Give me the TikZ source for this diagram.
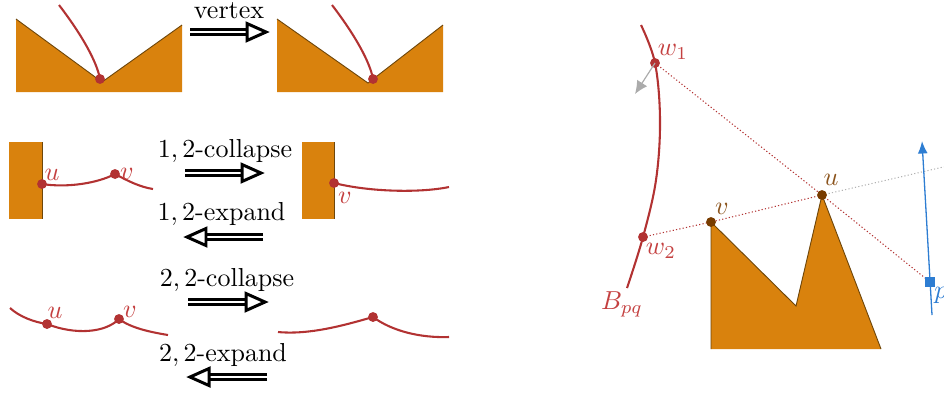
\documentclass[tikz,border=0pt]{standalone}
\usetikzlibrary{arrows.meta}
\definecolor{orng}{RGB}{217,130,13}
\definecolor{obord}{RGB}{110,70,10}
\definecolor{crv}{RGB}{178,50,50}
\definecolor{lbl}{RGB}{196,64,64}
\definecolor{brn}{RGB}{120,60,0}
\definecolor{brnl}{RGB}{140,85,30}
\definecolor{blu}{RGB}{45,125,210}
\newcommand\DArrow[3]{%
  \pgfmathsetmacro\dsgn{sign(#2-#1)}%
  \pgfmathsetmacro\xb{#2-21*\dsgn}%
  \pgfmathsetmacro\xt{#2-2*\dsgn}%
  \draw[dblline] (#1,#3-2.8) -- (\xb,#3-2.8) (#1,#3+2.8) -- (\xb,#3+2.8);
  \draw[dblline,fill=white,line join=miter] (\xb,#3-8.5) -- (\xt,#3) -- (\xb,#3+8.5) -- cycle;
}
\begin{document}
\begin{tikzpicture}[x=0.3846pt,y=-0.3846pt,
  poly/.style={fill=orng},
  pedge/.style={draw=obord,line width=0.35pt},
  curve/.style={draw=crv,line width=0.8pt},
  rdot/.style={circle,fill=crv,inner sep=0pt,minimum size=3.8pt},
  bdot/.style={circle,fill=brn,inner sep=0pt,minimum size=3.8pt},
  lab/.style={text=lbl,inner sep=0pt},
  blab/.style={text=brnl,inner sep=0pt},
  txt/.style={inner sep=0pt,anchor=base},
  dblline/.style={draw=black,line width=1.15pt},
  rdots/.style={draw=crv,line width=0.4pt,dash pattern=on 0.45pt off 0.85pt},
  gdots/.style={draw=black!30,line width=0.4pt,dash pattern=on 0.45pt off 0.85pt}]
\useasboundingbox (0,0) rectangle (944,394);

% ---------- vertex event ----------
\fill[poly] (16,19) -- (102,82) -- (182,25) -- (182,92) -- (16,92) -- cycle;
\draw[pedge] (16,19) -- (102,82) -- (182,25);
\node[rdot] (a1) at (100,79) {};
\draw[curve] (59,5) .. controls (82,35) and (97,62) .. (a1.center);

\fill[poly] (277,19) -- (368,83) -- (443,25) -- (443,92) -- (277,92) -- cycle;
\draw[pedge] (277,19) -- (368,83) -- (443,25);
\node[rdot] (a2) at (373,79) {};
\draw[curve] (332,5) .. controls (355,35) and (370,62) .. (a2.center);

\node[txt] (tv) at (229,18) {vertex};
\DArrow{190}{268}{32}

% ---------- 1,2 ----------
\fill[poly] (9,142) rectangle (42,219);
\draw[pedge] (42,142) -- (42,219);
\node[rdot] (u1) at (42,184) {};
\node[rdot] (v1) at (115,174) {};
\coordinate (e1) at (153,189);
\draw[curve] (u1.center) .. controls (68,188) and (98,183) .. (v1.center)
  .. controls (128,181) and (140,187) .. (e1);
\node[lab] at (52,175) {$u$};
\node[lab] at (127,174) {$v$};

\fill[poly] (302,142) rectangle (334,219);
\draw[pedge] (334,142) -- (334,219);
\node[rdot] (v2) at (334,183) {};
\coordinate (e2) at (449,187);
\draw[curve] (v2.center) .. controls (370,192) and (420,193) .. (e2);
\node[lab] at (345,198) {$v$};

\node[txt] at (225,157) {$1,2$-collapse};
\DArrow{185}{263}{173}
\node[txt] at (221.5,220.7) {$1,2$-expand};
\DArrow{263}{185}{237}

% ---------- 2,2 ----------
\coordinate (s3) at (10,308);
\node[rdot] (u3) at (47,324) {};
\node[rdot] (v3) at (119,319) {};
\coordinate (e3) at (168,335);
\draw[curve] (s3) .. controls (20,317) and (34,322) .. (u3.center)
  .. controls (75,335) and (105,333) .. (v3.center)
  .. controls (131,328) and (150,332) .. (e3);
\node[lab] at (55,313) {$u$};
\node[lab] at (130,312) {$v$};

\coordinate (s4) at (278,332);
\node[rdot] (m4) at (373,317) {};
\coordinate (e4) at (449,337);
\draw[curve] (s4) .. controls (310,335) and (345,325) .. (m4.center)
  .. controls (392,331) and (420,338) .. (e4);

\node[txt] at (227,286) {$2,2$-collapse};
\DArrow{188}{267}{302}
\node[txt] at (223,361.7) {$2,2$-expand};
\DArrow{267}{188}{377}

% ---------- right panel ----------
\coordinate (v) at (711,222);
\coordinate (u) at (822,195);
\fill[poly] (v) -- (796,306) -- (u) -- (881,349) -- (711,349) -- cycle;
\draw[pedge] (711,349) -- (v) -- (796,306) -- (u) -- (881,349);

\node[rdot] (w1) at (655,63) {};
\node[rdot] (w2) at (643,237) {};
\draw[curve] plot[smooth,tension=0.6] coordinates {(641,25) (655,63) (660,120) (656,180) (643,237) (627,288)};

\coordinate (p) at (930,282);
\coordinate (far) at (952,165);
\draw[rdots] (w1.center) -- (u) -- (p);
\draw[rdots] (w2.center) -- (v) -- (u);
\draw[gdots] (u) -- (far);

\coordinate (gt) at (635,94);
\draw[draw=black!33,line width=0.45pt,-{Latex[length=5pt,width=4.6pt]}] (w1.center) -- (gt);

\coordinate (bb) at (932,315);
\coordinate (bt) at (922,141);
\draw[draw=blu,line width=0.5pt,-{Latex[length=4.8pt,width=3.8pt]}] (bb) -- (bt);
\node[fill=blu,inner sep=0pt,minimum size=3.5pt] (ps) at (p) {};

\node[bdot] (un) at (u) {};
\node[bdot] (vn) at (v) {};

\node[lab] at (673,52) {$w_1$};
\node[lab] at (661,251) {$w_2$};
\node[lab] at (622,304) {$B_{pq}$};
\node[blab] at (831,180) {$u$};
\node[blab] at (722,209) {$v$};
\node[text=blu,inner sep=0pt] at (941,295) {$p$};
\end{tikzpicture}
\end{document}
